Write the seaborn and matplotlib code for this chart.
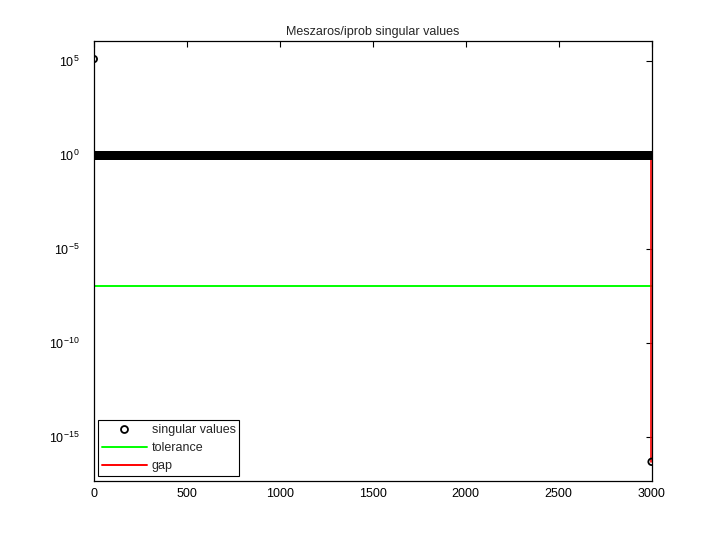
import numpy as np
import pandas as pd
import matplotlib
matplotlib.use("Agg")
import matplotlib.pyplot as plt
import seaborn as sns

# ---- data ----
n_values = 3000
first_value = 1.3e5          # largest singular value (~10^5.1)
bulk_value = 1.0             # the ~2998 singular values sitting at 10^0
last_value = 5e-17           # smallest singular value (~10^-16.3)
tolerance = 1.1e-7           # green tolerance line
gap_x = 2995                 # position of gap (red)
gap_y = [bulk_value, last_value]
x_ticks = [0, 500, 1000, 1500, 2000, 2500, 3000]
y_tick_exponents = [5, 0, -5, -10, -15]
y_limits_exp = (-17.3, 6.1)
title_text = "Meszaros/iprob singular values"

sv = [first_value] + [bulk_value] * (n_values - 2) + [last_value]
idx = list(range(1, n_values + 1))
df = pd.DataFrame({"index": idx, "sv": sv})
tol_df = pd.DataFrame({"x": [0, n_values], "y": [tolerance, tolerance]})
gap_df = pd.DataFrame({"x": [gap_x, gap_x], "y": gap_y})

sns.set_theme(style="white")
plt.rcParams["font.family"] = ["Liberation Sans", "DejaVu Sans"]
plt.rcParams["mathtext.default"] = "regular"

fig = plt.figure(figsize=(7.2, 5.4), dpi=100)
ax = fig.add_axes([0.13, 0.11, 0.775, 0.815])
ax.set_yscale("log")

sns.lineplot(data=tol_df, x="x", y="y", ax=ax, color=(0, 1, 0),
             linewidth=1.4, estimator=None, sort=False, legend=False)
sns.lineplot(data=gap_df, x="x", y="y", ax=ax, color=(1, 0, 0),
             linewidth=1.2, estimator=None, sort=False, legend=False)
sns.scatterplot(data=df, x="index", y="sv", ax=ax, marker="o", s=22,
                facecolors="none", edgecolor="black", linewidth=1.3,
                legend=False, zorder=3)

ax.set_xlim(0, n_values)
ax.set_ylim(10.0 ** y_limits_exp[0], 10.0 ** y_limits_exp[1])
ax.set_xticks(x_ticks)
ax.set_xticklabels([str(t) for t in x_ticks])
ax.set_yticks([10.0 ** e for e in y_tick_exponents])
ax.set_yticklabels([r"$10^{%d}$" % e for e in y_tick_exponents])
ax.yaxis.set_minor_locator(matplotlib.ticker.NullLocator())
ax.tick_params(axis="both", which="both", direction="in", length=4.5, width=0.8,
               top=True, right=True, labelsize=9, colors="black")
ax.tick_params(axis="x", pad=5)
ax.tick_params(axis="y", pad=10)
for sp in ax.spines.values():
    sp.set_color("black")
    sp.set_linewidth(0.9)
ax.set_xlabel("")
ax.set_ylabel("")
ax.set_title(title_text, fontsize=9, pad=4)

from matplotlib.lines import Line2D
handles = [
    Line2D([], [], linestyle="none", marker="o", markersize=5,
           markerfacecolor="none", markeredgecolor="black", markeredgewidth=1.3),
    Line2D([], [], color=(0, 1, 0), linewidth=1.4),
    Line2D([], [], color=(1, 0, 0), linewidth=1.4),
]
leg = ax.legend(handles, ["singular values", "tolerance", "gap"], loc="lower left",
                fontsize=9, frameon=True, fancybox=False, handlelength=3.6,
                borderaxespad=0.35, labelspacing=0.5, handletextpad=0.4,
                borderpad=0.3)
leg.get_frame().set_edgecolor("black")
leg.get_frame().set_linewidth(0.8)
leg.get_frame().set_alpha(1)

fig.savefig("out.png", dpi=100)
